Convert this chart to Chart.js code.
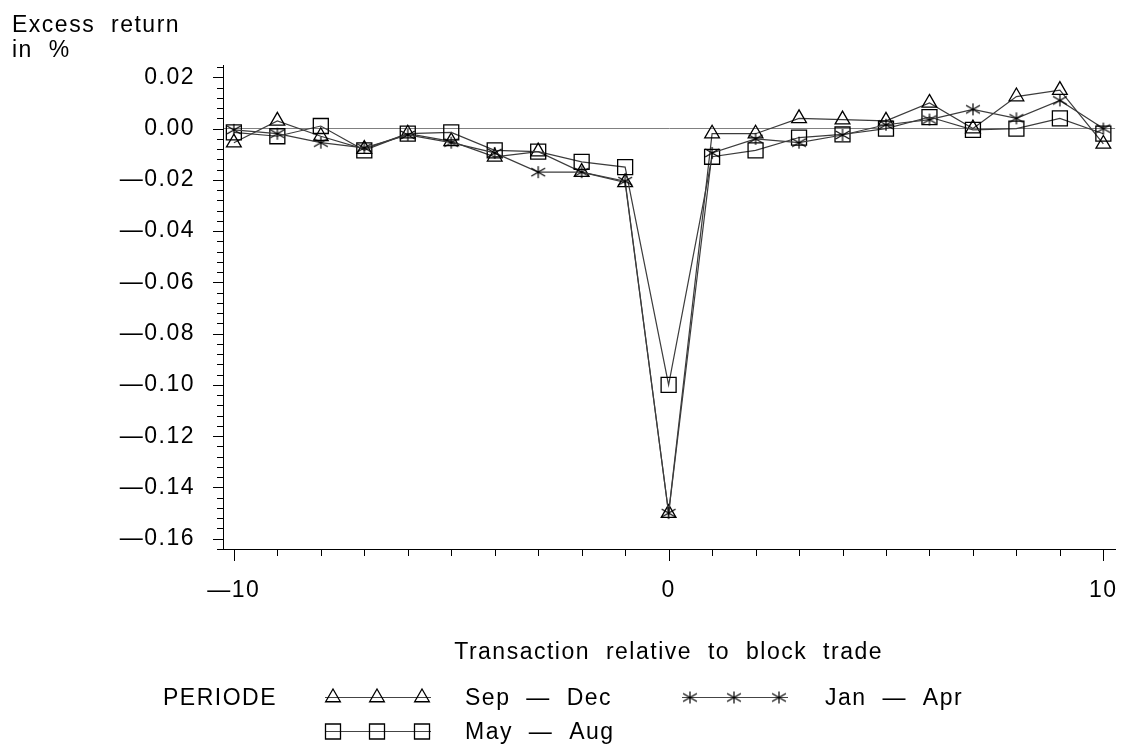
<!DOCTYPE html>
<html>
<head>
<meta charset="utf-8">
<script src="https://cdn.jsdelivr.net/npm/chart.js@4.4.0/dist/chart.umd.min.js"></script>
<style>
  body { margin: 0; background: #fff; }
  canvas { display: block; }
</style>
</head>
<body>
<canvas id="returnChart" width="1127" height="746"></canvas>
<script>
// transaction day relative to the block trade
const days = [-10, -9, -8, -7, -6, -5, -4, -3, -2, -1, 0, 1, 2, 3, 4, 5, 6, 7, 8, 9, 10];

// excess return per period
const sepDec = [-0.0055, 0.003, -0.003, -0.008, -0.002, -0.005, -0.011, -0.009, -0.017, -0.021, -0.150,
                -0.002, -0.002, 0.004, 0.0035, 0.003, 0.010, 0.000, 0.0125, 0.015, -0.006];
const mayAug = [-0.0015, -0.003, 0.001, -0.0085, -0.002, -0.0015, -0.0085, -0.009, -0.013, -0.015, -0.100,
                -0.011, -0.0085, -0.0035, -0.0023, 0.000, 0.0045, -0.0005, 0.000, 0.004, -0.002];
const janApr = [-0.0005, -0.002, -0.0055, -0.0075, -0.0025, -0.0055, -0.0095, -0.017, -0.017, -0.0205, -0.150,
                -0.0095, -0.004, -0.0055, -0.0025, 0.0015, 0.0035, 0.0075, 0.004, 0.011, 0.000];

const seriesNames = ['Sep \u2014 Dec', 'May \u2014 Aug', 'Jan \u2014 Apr'];
const xTickLabels = [-10, 0, 10];
const yTickLabels = [0.02, 0.00, -0.02, -0.04, -0.06, -0.08, -0.10, -0.12, -0.14, -0.16];

const FONT = '"Liberation Sans", Arial, Helvetica, sans-serif';

// minor tick positions on the y axis (every 0.004)
const yMinor = [];
for (let k = -41; k <= 6; k++) yMinor.push(Math.round(k * 4) / 1000);

function isMajorY(v) {
    return yTickLabels.some(t => Math.abs(t - v) < 1e-9);
}

// SAS style star: a vertical stroke and two flat diagonals
function makeStar() {
    const c = document.createElement('canvas');
    c.width = 18; c.height = 14;
    const g = c.getContext('2d');
    const cx = 9, cy = 7, r = 8, a = 30 * Math.PI / 180;
    g.strokeStyle = '#000';
    g.lineWidth = 1.2;
    g.beginPath();
    g.moveTo(cx, 1); g.lineTo(cx, 13);
    g.moveTo(cx - r * Math.cos(a), cy - r * Math.sin(a));
    g.lineTo(cx + r * Math.cos(a), cy + r * Math.sin(a));
    g.moveTo(cx - r * Math.cos(a), cy + r * Math.sin(a));
    g.lineTo(cx + r * Math.cos(a), cy - r * Math.sin(a));
    g.stroke();
    return c;
}
const starImg = makeStar();

function toPoints(values) {
    return days.map((d, i) => ({ x: d, y: values[i] }));
}

function minusLabel(v, digits) {
    const s = Math.abs(v).toFixed(digits);
    return v < -1e-9 ? '\u2014' + s : s;
}

function drawMarker(ctx, style, x, y) {
    ctx.beginPath();
    if (style === 'triangle') {
        const r = 8.5;
        for (let i = 0; i < 3; i++) {
            const a = i * 2 * Math.PI / 3;
            const px = x + Math.sin(a) * r, py = y - Math.cos(a) * r;
            if (i === 0) ctx.moveTo(px, py); else ctx.lineTo(px, py);
        }
        ctx.closePath();
        ctx.stroke();
    } else if (style === 'rect') {
        ctx.rect(x - 7.5, y - 7.5, 15, 15);
        ctx.stroke();
    } else {
        ctx.drawImage(starImg, x - 9, y - 7);
    }
}

const sasDecor = {
    id: 'sasDecor',
    beforeDraw(chart) {
        chart.ctx.letterSpacing = '1.5px';
    },
    afterDraw(chart) {
        const ctx = chart.ctx;
        const xs = chart.scales.x, ys = chart.scales.y;
        const area = chart.chartArea;
        ctx.save();
        ctx.strokeStyle = '#000';
        ctx.lineWidth = 1;

        // tick marks, longer for labelled ones
        ctx.beginPath();
        yMinor.forEach(v => {
            const py = Math.round(ys.getPixelForValue(v)) + 0.5;
            const len = isMajorY(v) ? 10 : 6;
            ctx.moveTo(area.left - len, py);
            ctx.lineTo(area.left, py);
        });
        days.forEach(d => {
            const px = Math.round(xs.getPixelForValue(d)) + 0.5;
            const len = xTickLabels.includes(d) ? 12 : 7;
            ctx.moveTo(px, area.bottom);
            ctx.lineTo(px, area.bottom + len);
        });
        ctx.stroke();

        // axis titles
        ctx.fillStyle = '#000';
        ctx.letterSpacing = '1.5px';
        ctx.wordSpacing = '8px';
        ctx.font = '23px ' + FONT;
        ctx.textBaseline = 'alphabetic';
        ctx.textAlign = 'left';
        ctx.fillText('Excess return', 12, 32);
        ctx.fillText('in %', 12, 57);

        ctx.textAlign = 'center';
        ctx.fillText('Transaction relative to block trade', xs.getPixelForValue(0), 659);

        // legend
        ctx.textAlign = 'left';
        ctx.textBaseline = 'middle';
        ctx.fillText('PERIODE', 163, 699);
        const items = [
            { style: 'triangle', x0: 325, y: 697, label: seriesNames[0], tx: 465 },
            { style: 'rect', x0: 325, y: 731, label: seriesNames[1], tx: 465 },
            { style: 'star', x0: 682, y: 697, label: seriesNames[2], tx: 825 }
        ];
        items.forEach(it => {
            ctx.strokeStyle = '#444';
            ctx.lineWidth = 1;
            ctx.beginPath();
            ctx.moveTo(it.x0, it.y + 0.5);
            ctx.lineTo(it.x0 + 106, it.y + 0.5);
            ctx.stroke();
            ctx.strokeStyle = '#000';
            ctx.lineWidth = 1.3;
            [8, 52, 97].forEach(dx => drawMarker(ctx, it.style, it.x0 + dx, it.y + 0.5));
            ctx.fillText(it.label, it.tx, it.y + 2);
        });
        ctx.restore();
    }
};

function seriesDataset(label, values, style, radius) {
    return {
        label: label,
        data: toPoints(values),
        borderColor: '#3c3c3c',
        borderWidth: 1.2,
        pointStyle: style,
        pointRadius: radius,
        pointBorderColor: '#000',
        pointBackgroundColor: 'rgba(0,0,0,0)',
        pointBorderWidth: 1.3,
        fill: false,
        tension: 0
    };
}

new Chart(document.getElementById('returnChart'), {
    type: 'line',
    data: {
        datasets: [
            seriesDataset(seriesNames[2], janApr, starImg, 8),
            seriesDataset(seriesNames[1], mayAug, 'rect', 10.6),
            seriesDataset(seriesNames[0], sepDec, 'triangle', 8.5)
        ]
    },
    options: {
        responsive: false,
        animation: false,
        layout: { padding: { top: 65, right: 9, left: 0, bottom: 0 } },
        plugins: {
            legend: { display: false },
            tooltip: { enabled: false }
        },
        scales: {
            x: {
                type: 'linear',
                min: -10.25,
                max: 10.27,
                afterBuildTicks: scale => { scale.ticks = xTickLabels.map(v => ({ value: v })); },
                afterFit: scale => {
                    scale.height = 197;
                    scale.paddingLeft = 0;
                    scale.paddingRight = 0;
                },
                grid: { drawOnChartArea: false, drawTicks: false },
                border: { display: true, color: '#000', width: 1 },
                ticks: {
                    padding: 28,
                    color: '#000',
                    font: { family: FONT, size: 23 },
                    maxRotation: 0,
                    callback: v => minusLabel(v, 0)
                }
            },
            y: {
                min: -0.164,
                max: 0.0248,
                afterBuildTicks: scale => { scale.ticks = yTickLabels.map(v => ({ value: v })); },
                afterFit: scale => {
                    scale.width = 223;
                    scale.paddingTop = 0;
                    scale.paddingBottom = 0;
                },
                grid: {
                    drawTicks: false,
                    color: c => (c.tick && Math.abs(c.tick.value) < 1e-9) ? '#808080' : 'rgba(0,0,0,0)',
                    lineWidth: 1
                },
                border: { display: true, color: '#000', width: 1 },
                ticks: {
                    padding: 28,
                    color: '#000',
                    font: { family: FONT, size: 23 },
                    callback: v => minusLabel(v, 2)
                }
            }
        }
    },
    plugins: [sasDecor]
});
</script>
</body>
</html>
